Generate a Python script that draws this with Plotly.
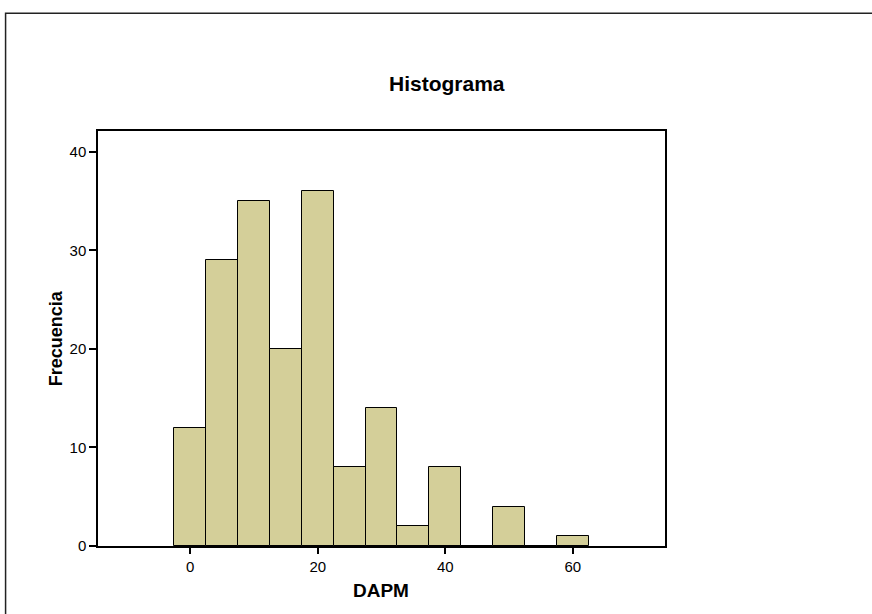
import plotly.graph_objects as go

# Data (bin centres, width 5)
bin_centers = [0, 5, 10, 15, 20, 25, 30, 35, 40, 45, 50, 55, 60]
frequencies = [12, 29, 35, 20, 36, 8, 14, 2, 8, 0, 4, 0, 1]
bin_width = 5
x_ticks = [0, 20, 40, 60]
y_ticks = [0, 10, 20, 30, 40]

W, H = 872, 614
L, R, T, B = 98, 665.5, 130.5, 546

fig = go.Figure()
fig.add_trace(go.Bar(
    x=bin_centers, y=frequencies, width=[bin_width] * len(bin_centers),
    marker=dict(color="#D4CF99", line=dict(color="black", width=1)),
    hoverinfo="x+y",
))

def px_x(p):
    return (p - L) / (R - L)

def px_y(p):
    return (B - p) / (B - T)

font = "Liberation Sans, Arial, sans-serif"
fig.update_layout(
    width=W, height=H,
    margin=dict(l=L, r=W - R, t=T, b=H - B),
    paper_bgcolor="white", plot_bgcolor="white",
    showlegend=False, bargap=0,
    font=dict(family=font, size=15, color="black"),
    xaxis=dict(range=[-14.46, 74.45], tickvals=x_ticks, ticks="outside",
               ticklen=6, tickwidth=1.5, tickcolor="black", showgrid=False,
               zeroline=False, showline=True, linecolor="black", linewidth=1.5,
               mirror=True, tickfont=dict(size=15)),
    yaxis=dict(range=[0, 42.1], tickvals=y_ticks, ticks="outside",
               ticklen=7, tickwidth=1.5, tickcolor="black", showgrid=False,
               zeroline=False, showline=True, linecolor="black", linewidth=1.5,
               mirror=True, tickfont=dict(size=15)),
    shapes=[dict(type="rect", xref="paper", yref="paper",
                 x0=px_x(5.5), x1=px_x(885), y0=px_y(625), y1=px_y(12.5),
                 line=dict(color="#222222", width=1.5), layer="above")],
    annotations=[
        dict(text="<b>Histograma</b>", xref="paper", yref="paper",
             x=px_x(447), y=px_y(83), showarrow=False,
             font=dict(size=21, family=font), xanchor="center", yanchor="middle"),
        dict(text="<b>DAPM</b>", xref="paper", yref="paper",
             x=px_x(381), y=px_y(591), showarrow=False,
             font=dict(size=19, family=font), xanchor="center", yanchor="middle"),
        dict(text="<b>Frecuencia</b>", xref="paper", yref="paper",
             x=px_x(56), y=px_y(338), showarrow=False, textangle=-90,
             font=dict(size=18, family=font), xanchor="center", yanchor="middle"),
    ],
)

fig.write_html("out.html")
